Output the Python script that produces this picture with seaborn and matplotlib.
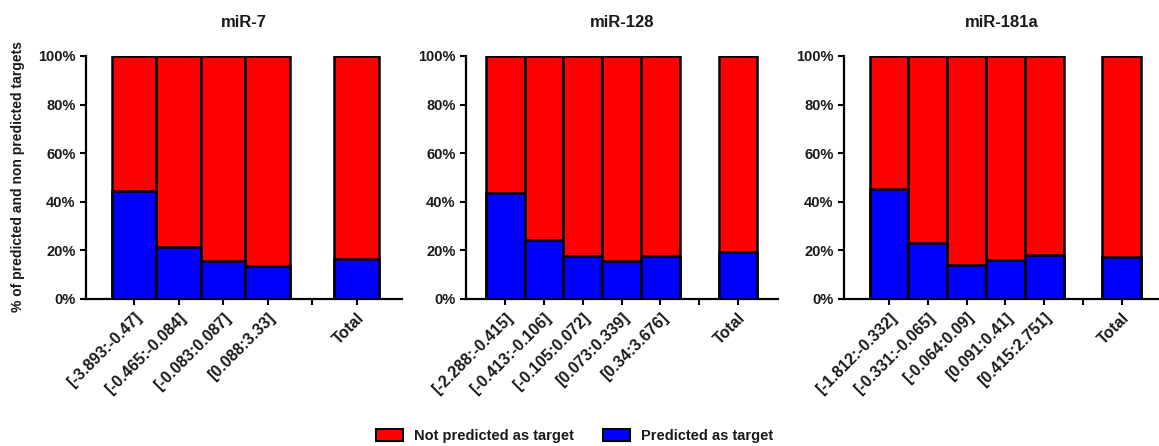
import numpy as np
import pandas as pd
import matplotlib
matplotlib.use("Agg")
import matplotlib.pyplot as plt
import seaborn as sns
from matplotlib.patches import Patch
from matplotlib.ticker import PercentFormatter

titles = ["miR-7", "miR-128", "miR-181a"]

bins_mir7 = ["[-3.893:-0.47]", "[-0.465:-0.084]", "[-0.083:0.087]", "[0.088:3.33]"]
bins_mir128 = ["[-2.288:-0.415]", "[-0.413:-0.106]", "[-0.105:0.072]", "[0.073:0.339]", "[0.34:3.676]"]
bins_mir181a = ["[-1.812:-0.332]", "[-0.331:-0.065]", "[-0.064:0.09]", "[0.091:0.41]", "[0.415:2.751]"]

# % predicted as target (bins, then Total)
pred_mir7 = [44.3, 21.4, 15.5, 13.7, 16.5]
pred_mir128 = [43.8, 24.2, 17.8, 15.8, 17.8, 19.3]
pred_mir181a = [45.2, 23.0, 14.1, 16.2, 18.2, 17.3]

RED = "#ff0000"
BLUE = "#0000ff"
INK = "#1a1a1a"

sns.set_style("ticks")
plt.rcParams["font.family"] = ["Liberation Sans", "DejaVu Sans"]
plt.rcParams["font.weight"] = "bold"

fig = plt.figure(figsize=(11.59, 4.46), dpi=100)

W, H = 1159, 446
bottom = (H - 299) / H
height = 243 / H
# (left px, right px, xlim)
layout = [
    (86, 402, (-1.08, 6.02)),
    (466, 778, (-1.01, 7.03)),
    (844, 1159, (-1.16, 6.96)),
]

panels = [
    (titles[0], bins_mir7, pred_mir7),
    (titles[1], bins_mir128, pred_mir128),
    (titles[2], bins_mir181a, pred_mir181a),
]

for (title, bins, pred), (lpx, rpx, xl) in zip(panels, layout):
    ax = fig.add_axes([lpx / W, bottom, (rpx - lpx) / W, height])
    cats = bins + ["Total"]
    order = bins + [" ", "Total"]
    df = pd.DataFrame({"bin": cats, "pred": pred})
    df["notpred"] = 100 - df["pred"]
    df["all"] = df["pred"] + df["notpred"]

    sns.barplot(data=df, x="bin", y="all", order=order, color=RED, width=1.0,
                edgecolor="black", linewidth=1.8, saturation=1, ax=ax, zorder=2)
    sns.barplot(data=df, x="bin", y="pred", order=order, color=BLUE, width=1.0,
                edgecolor="black", linewidth=1.8, saturation=1, ax=ax, zorder=3)

    ax.set_xlim(*xl)
    ax.set_ylim(0, 100)
    ax.set_yticks([0, 20, 40, 60, 80, 100])
    ax.yaxis.set_major_formatter(PercentFormatter(decimals=0))
    ax.set_xticks(range(len(order)))
    ax.set_xticklabels([o if o.strip() else "" for o in order], rotation=45,
                       ha="right", rotation_mode="anchor", fontsize=11.5,
                       fontweight="bold", color=INK)
    for t in ax.get_yticklabels():
        t.set_fontsize(10.5)
        t.set_fontweight("bold")
        t.set_color(INK)
    ax.set_xlabel("")
    ax.set_ylabel("")
    sns.despine(ax=ax)
    for s in ["left", "bottom"]:
        ax.spines[s].set_linewidth(1.6)
        ax.spines[s].set_color("black")
    ax.tick_params(axis="both", direction="out", length=4, width=1.5, color="black")
    ax.tick_params(axis="x", pad=4)
    ax.set_title(title, fontsize=12, fontweight="bold", pad=21, color=INK)

fig.text(18 / W, (H - 177) / H, "% of predicted and non predicted targets",
         rotation=90, ha="center", va="center", fontsize=10, fontweight="bold", color=INK)

handles = [Patch(facecolor=RED, edgecolor="black", linewidth=1.5, label="Not predicted as target"),
           Patch(facecolor=BLUE, edgecolor="black", linewidth=1.5, label="Predicted as target")]
leg = fig.legend(handles=handles, loc="center", bbox_to_anchor=(0.496, 10 / H), ncol=2,
                 frameon=False, handlelength=1.8, handleheight=0.8, columnspacing=2.0,
                 prop={"size": 10.5, "weight": "bold"})
for t in leg.get_texts():
    t.set_color(INK)

fig.savefig("out.png", dpi=100)
